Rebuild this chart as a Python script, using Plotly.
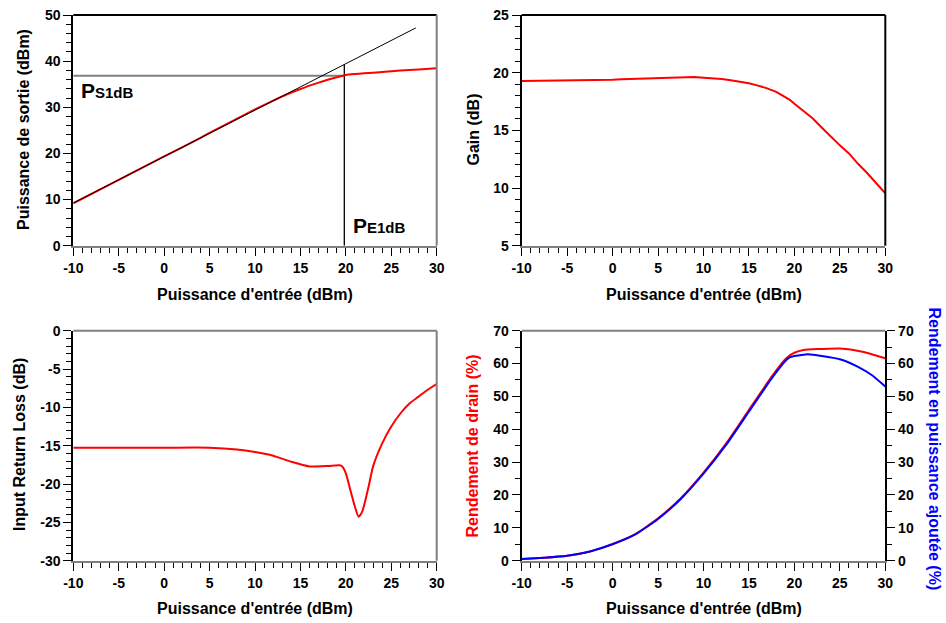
import plotly.graph_objects as go

# ---------------- data ----------------
# Panel 1 : output power vs input power
pin_out = [-10, -5, 0, 4, 5, 10, 12, 13, 14, 15, 16, 17, 18, 19, 20, 21, 22, 24, 26, 28, 30]
pout = [9.2, 14.25, 19.35, 23.35, 24.45, 29.55, 31.45, 32.35, 33.2, 33.95, 34.7, 35.35, 35.95,
        36.5, 37.0, 37.2, 37.35, 37.65, 37.95, 38.2, 38.45]
lin_x = [-10, 27.7]
lin_y = [9.25, 47.2]
p_e1db = 19.83     # input 1 dB compression point (dBm)
p_s1db = 36.85     # output 1 dB compression point (dBm)
p_lin_at_e1db = 39.3

# Panel 2 : gain
pin_gain = [-10, -5, -3, 0, 1, 3, 5, 7, 8, 9, 10, 11, 12, 13, 14, 15, 16, 17, 18, 19, 19.5,
            20, 21, 22, 23, 24, 25, 26, 27, 28, 29, 30]
gain = [19.28, 19.3, 19.33, 19.38, 19.42, 19.46, 19.5, 19.58, 19.62, 19.62, 19.56, 19.53,
        19.45, 19.35, 19.22, 19.08, 18.88, 18.64, 18.33, 17.92, 17.65, 17.3, 16.7, 16.05,
        15.25, 14.45, 13.7, 13.0, 12.1, 11.3, 10.45, 9.55]

# Panel 3 : input return loss
pin_rl = [-10, -5, 0, 5, 8, 10, 12, 14, 16, 18, 19.3, 19.6, 20, 20.5, 21, 21.4, 21.8, 22.5,
          23, 24, 25, 26, 27, 28, 29, 30]
rl = [-15.26, -15.26, -15.26, -15.26, -15.5, -15.83, -16.3, -17.1, -17.7, -17.65, -17.55,
      -17.7, -18.6, -20.8, -22.96, -24.26, -23.6, -20.35, -17.7, -14.7, -12.5, -10.8, -9.5,
      -8.6, -7.7, -6.96]

# Panel 4 : efficiencies
pin_de = [-10, -7.5, -5, -2.5, 0, 2.5, 5, 7.5, 10, 12.5, 15, 17.5, 19, 19.5, 20, 21, 22.5,
          25, 27.5, 30]
drain_eff = [0.5, 0.9, 1.5, 2.8, 5.1, 8.1, 12.9, 19.0, 26.8, 35.7, 45.9, 56.0, 61.3, 62.5,
             63.3, 64.1, 64.4, 64.6, 63.6, 61.6]
pin_pae = [-10, -7.5, -5, -2.5, 0, 2.5, 5, 7.5, 10, 12.5, 15, 17.5, 19, 19.5, 20, 21, 21.5,
           23, 25, 27, 28.5, 30]
pae = [0.5, 0.9, 1.5, 2.8, 5.0, 8.0, 12.7, 18.8, 26.5, 35.3, 45.4, 55.5, 60.8, 61.9, 62.3,
       62.7, 62.8, 62.3, 61.3, 59.0, 56.5, 53.0]

# tick labels
x_ticks = [-10, -5, 0, 5, 10, 15, 20, 25, 30]
y1_ticks = [0, 10, 20, 30, 40, 50]
y2_ticks = [5, 10, 15, 20, 25]
y3_ticks = [-30, -25, -20, -15, -10, -5, 0]
y4_ticks = [0, 10, 20, 30, 40, 50, 60, 70]

# ---------------- figure ----------------
W, H = 946, 623
FONT = "Liberation Sans, Arial, sans-serif"
RED = "#ff0000"
BLUE = "#0000ff"
GREY = "#808080"

def px_x(p):
    return p / W

def px_y(p):
    return 1 - p / H

XL = [px_x(73.3), px_x(436.7)]
XR = [px_x(521.7), px_x(885.3)]
YT = [px_y(245.7), px_y(15)]
YB = [px_y(560.7), px_y(330.7)]

fig = go.Figure()

fig.add_trace(go.Scatter(x=[-10, p_e1db], y=[p_s1db, p_s1db], mode="lines",
                         line=dict(color=GREY, width=2), xaxis="x", yaxis="y", showlegend=False))
fig.add_trace(go.Scatter(x=[p_e1db, p_e1db], y=[0, p_lin_at_e1db], mode="lines",
                         line=dict(color="black", width=1.3), xaxis="x", yaxis="y", showlegend=False))
fig.add_trace(go.Scatter(x=pin_out, y=pout, mode="lines", line=dict(color=RED, width=2, shape="spline", smoothing=0.4),
                         xaxis="x", yaxis="y", showlegend=False))
fig.add_trace(go.Scatter(x=lin_x, y=lin_y, mode="lines", line=dict(color="black", width=1),
                         xaxis="x", yaxis="y", showlegend=False))
fig.add_trace(go.Scatter(x=pin_gain, y=gain, mode="lines", line=dict(color=RED, width=2),
                         xaxis="x2", yaxis="y2", showlegend=False))
fig.add_trace(go.Scatter(x=pin_rl, y=rl, mode="lines", line=dict(color=RED, width=2, shape="spline", smoothing=0.6),
                         xaxis="x3", yaxis="y3", showlegend=False))
fig.add_trace(go.Scatter(x=pin_de, y=drain_eff, mode="lines", line=dict(color=RED, width=2, shape="spline", smoothing=0.5),
                         xaxis="x4", yaxis="y4", showlegend=False))
fig.add_trace(go.Scatter(x=pin_pae, y=pae, mode="lines", line=dict(color=BLUE, width=2, shape="spline", smoothing=0.5),
                         xaxis="x4", yaxis="y5", showlegend=False))

tickfont = dict(family=FONT, size=14, color="black", weight="bold")

def xaxis(domain, anchor):
    return dict(domain=domain, anchor=anchor, range=[-10, 30], tickmode="array",
                tickvals=x_ticks, ticktext=[str(v) for v in x_ticks], ticks="outside",
                ticklen=8, tickwidth=1.3, tickcolor="black", showline=True, linecolor=GREY,
                linewidth=2, showgrid=False, zeroline=False, tickfont=tickfont,
                automargin=False,
                minor=dict(ticks="outside", ticklen=5, tickwidth=1.3, tickcolor="black",
                           dtick=1, tick0=0, showgrid=False))

def yaxis(domain, anchor, rng, vals, mdt, side="left", color="black", overlaying=None):
    d = dict(domain=domain, anchor=anchor, range=rng, tickmode="array", tickvals=vals,
             ticktext=[str(v) for v in vals], ticks="outside", ticklen=8, tickwidth=1.3,
             tickcolor="black", showline=True, linecolor=color, linewidth=2, showgrid=False,
             zeroline=False, tickfont=tickfont, side=side, automargin=False,
             minor=dict(ticks="outside", ticklen=5, tickwidth=1.3, tickcolor="black",
                        dtick=mdt, tick0=0, showgrid=False))
    if overlaying:
        d["overlaying"] = overlaying
    return d

fig.update_layout(
    width=W, height=H, margin=dict(l=0, r=0, t=0, b=0, pad=0, autoexpand=False),
    paper_bgcolor="white", plot_bgcolor="white", showlegend=False,
    font=dict(family=FONT, size=14, color="black"),
    xaxis=xaxis(XL, "y"), yaxis=yaxis(YT, "x", [0, 50], y1_ticks, 2),
    xaxis2=xaxis(XR, "y2"), yaxis2=yaxis(YT, "x2", [5, 25], y2_ticks, 1),
    xaxis3=xaxis(XL, "y3"), yaxis3=yaxis(YB, "x3", [-30, 0], y3_ticks, 1),
    xaxis4=xaxis(XR, "y4"), yaxis4=yaxis(YB, "x4", [0, 70], y4_ticks, 5),
    yaxis5=yaxis(YB, "x4", [0, 70], y4_ticks, 5, side="right", overlaying="y4"),
)

# frame top / right borders
shapes = []
for xr, yr, top_c, right_c in [("x", "y", "black", GREY), ("x2", "y2", "black", "black"),
                               ("x3", "y3", GREY, GREY), ("x4", "y4", GREY, None)]:
    shapes.append(dict(type="line", xref=f"{xr} domain", yref=f"{yr} domain", x0=0, x1=1,
                       y0=1, y1=1, line=dict(color=top_c, width=2), layer="above"))
    if right_c:
        shapes.append(dict(type="line", xref=f"{xr} domain", yref=f"{yr} domain", x0=1, x1=1,
                           y0=0, y1=1, line=dict(color=right_c, width=2), layer="above"))
fig.update_layout(shapes=shapes)

tfont = dict(family=FONT, size=16, color="black", weight="bold")
ann = []
def title(text, x, y, angle=0, color="black"):
    f = dict(tfont)
    f["color"] = color
    ann.append(dict(text=text, x=px_x(x), y=px_y(y), xref="paper", yref="paper",
                    showarrow=False, textangle=angle, font=f, xanchor="center",
                    yanchor="middle"))

xt = "Puissance d'entrée (dBm)"
title(xt, 255, 294)
title(xt, 703.5, 294)
title(xt, 255, 608)
title(xt, 703.5, 608)
title("Puissance de sortie (dBm)", 23, 130, -90)
title("Gain (dB)", 472.5, 130, -90)
title("Input Return Loss (dB)", 19, 445, -90)
title("Rendement de drain (%)", 471.5, 446, -90, RED)
title("Rendement en puissance ajoutée (%)", 934.5, 449, 90, BLUE)

pfont = dict(family=FONT, size=21, color="black", weight="bold")
ann.append(dict(text="P<span style='font-size:15px'>S1dB</span>", x=-9.35, y=33.6,
                xref="x", yref="y", showarrow=False, font=pfont, xanchor="left",
                yanchor="middle"))
ann.append(dict(text="P<span style='font-size:15px'>E1dB</span>", x=20.55, y=4.3,
                xref="x", yref="y", showarrow=False, font=pfont, xanchor="left",
                yanchor="middle"))
fig.update_layout(annotations=ann)

fig.write_html("out.html", config={"displayModeBar": False},
               post_script="document.body.style.margin='0';document.body.style.overflow='hidden';")
